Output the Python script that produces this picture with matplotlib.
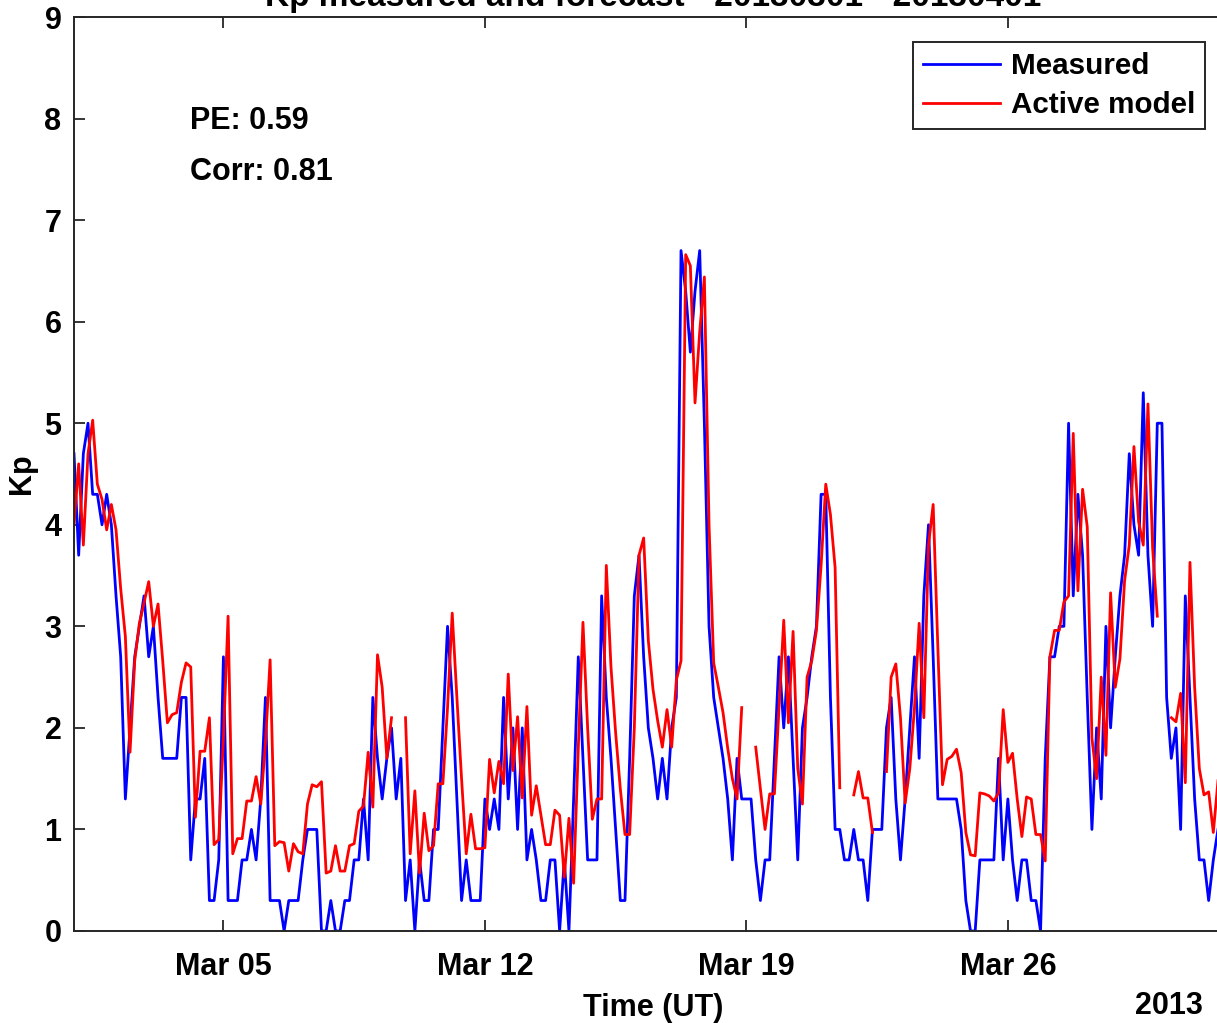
import matplotlib
matplotlib.use('Agg')
import matplotlib.pyplot as plt
import matplotlib.dates as mdates
import numpy as np
from datetime import datetime, timedelta

nan = np.nan

# 3-hourly Kp, one row per day (1-31 March 2013)
measured = [
    4.7, 3.7, 4.7, 5.0, 4.3, 4.3, 4.0, 4.3,
    4.0, 3.3, 2.7, 1.3, 2.0, 2.7, 3.0, 3.3,
    2.7, 3.0, 2.3, 1.7, 1.7, 1.7, 1.7, 2.3,
    2.3, 0.7, 1.3, 1.3, 1.7, 0.3, 0.3, 0.7,
    2.7, 0.3, 0.3, 0.3, 0.7, 0.7, 1.0, 0.7,
    1.3, 2.3, 0.3, 0.3, 0.3, 0.0, 0.3, 0.3,
    0.3, 0.7, 1.0, 1.0, 1.0, 0.0, 0.0, 0.3,
    0.0, 0.0, 0.3, 0.3, 0.7, 0.7, 1.3, 0.7,
    2.3, 1.7, 1.3, 1.7, 2.0, 1.3, 1.7, 0.3,
    0.7, 0.0, 0.7, 0.3, 0.3, 1.0, 1.0, 2.0,
    3.0, 2.3, 1.3, 0.3, 0.7, 0.3, 0.3, 0.3,
    1.3, 1.0, 1.3, 1.0, 2.3, 1.3, 2.0, 1.0,
    2.0, 0.7, 1.0, 0.7, 0.3, 0.3, 0.7, 0.7,
    0.0, 0.7, 0.0, 1.3, 2.7, 1.7, 0.7, 0.7,
    0.7, 3.3, 2.3, 1.7, 1.0, 0.3, 0.3, 1.7,
    3.3, 3.7, 2.7, 2.0, 1.7, 1.3, 1.7, 1.3,
    2.0, 2.3, 6.7, 6.3, 5.7, 6.3, 6.7, 5.0,
    3.0, 2.3, 2.0, 1.7, 1.3, 0.7, 1.7, 1.3,
    1.3, 1.3, 0.7, 0.3, 0.7, 0.7, 1.7, 2.7,
    2.0, 2.7, 1.7, 0.7, 2.0, 2.3, 2.7, 3.0,
    4.3, 4.3, 2.3, 1.0, 1.0, 0.7, 0.7, 1.0,
    0.7, 0.7, 0.3, 1.0, 1.0, 1.0, 2.0, 2.3,
    1.3, 0.7, 1.3, 2.0, 2.7, 1.7, 3.3, 4.0,
    2.7, 1.3, 1.3, 1.3, 1.3, 1.3, 1.0, 0.3,
    0.0, 0.0, 0.7, 0.7, 0.7, 0.7, 1.7, 0.7,
    1.3, 0.7, 0.3, 0.7, 0.7, 0.3, 0.3, 0.0,
    1.7, 2.7, 2.7, 3.0, 3.0, 5.0, 3.3, 4.3,
    3.7, 2.3, 1.0, 2.0, 1.3, 3.0, 2.0, 2.7,
    3.3, 3.7, 4.7, 4.0, 3.7, 5.3, 3.7, 3.0,
    5.0, 5.0, 2.3, 1.7, 2.0, 1.0, 3.3, 2.3,
    1.3, 0.7, 0.7, 0.3, 0.7, 1.0, 1.7, 1.3,
]

# model forecast, gaps where the model gave no output
active_model = [
    4.0, 4.6, 3.8, 4.7, 5.03, 4.4, 4.25, 3.95,
    4.2, 3.95, 3.37, 2.9, 1.76, 2.66, 3.03, 3.23,
    3.44, 3.0, 3.22, 2.66, 2.05, 2.13, 2.15, 2.45,
    2.64, 2.6, 1.12, 1.77, 1.77, 2.1, 0.85, 0.9,
    1.9, 3.1, 0.76, 0.91, 0.91, 1.28, 1.28, 1.52,
    1.25, 1.85, 2.67, 0.84, 0.88, 0.87, 0.59, 0.86,
    0.78, 0.76, 1.25, 1.44, 1.42, 1.47, 0.57, 0.59,
    0.84, 0.59, 0.59, 0.84, 0.86, 1.18, 1.23, 1.76,
    1.22, 2.72, 2.4, 1.7, 2.1, nan, nan, 2.1,
    0.76, 1.38, 0.57, 1.16, 0.79, 0.84, 1.45, 1.45,
    2.2, 3.13, 2.3, 1.5, 0.76, 1.15, 0.81, 0.81,
    0.82, 1.69, 1.36, 1.67, 1.45, 2.53, 1.58, 2.11,
    1.31, 2.21, 1.14, 1.43, 1.14, 0.85, 0.85, 1.19,
    1.14, 0.53, 1.11, 0.47, 1.8, 3.04, 2.0, 1.1,
    1.3, 1.3, 3.6, 2.6, 1.95, 1.4, 0.95, 0.95,
    2.0, 3.7, 3.87, 2.86, 2.38, 2.07, 1.81, 2.18,
    1.81, 2.47, 2.66, 6.66, 6.55, 5.2, 5.9, 6.44,
    4.0, 2.64, 2.4, 2.15, 1.8, 1.5, 1.3, 2.2,
    nan, nan, 1.81, 1.4, 1.0, 1.35, 1.35, 2.2,
    3.06, 2.05, 2.95, 1.6, 1.25, 2.5, 2.66, 2.96,
    3.6, 4.4, 4.1, 3.58, 1.41, nan, nan, 1.34,
    1.57, 1.31, 1.31, 0.97, nan, nan, 1.57, 2.5,
    2.63, 2.1, 1.26, 1.6, 2.2, 3.03, 2.1, 3.8,
    4.2, 2.8, 1.44, 1.69, 1.72, 1.79, 1.56, 0.97,
    0.75, 0.74, 1.36, 1.35, 1.33, 1.28, 1.36, 2.18,
    1.66, 1.75, 1.3, 0.93, 1.32, 1.3, 0.95, 0.95,
    0.69, 2.7, 2.96, 2.96, 3.24, 3.3, 4.9, 3.35,
    4.35, 3.98, 1.9, 1.5, 2.5, 1.73, 3.33, 2.4,
    2.68, 3.45, 3.8, 4.77, 4.03, 3.8, 5.19, 3.77,
    3.1, nan, nan, 2.1, 2.06, 2.34, 1.46, 3.63,
    2.4, 1.6, 1.34, 1.37, 0.97, 1.48, 1.8, 1.5,
]

tick_days = [5, 12, 19, 26]
pe = 0.59
corr = 0.81

start = datetime(2013, 3, 1)
end = datetime(2013, 4, 1)
times = [start + timedelta(hours=3 * i) for i in range(len(measured))]

plt.rcParams['font.family'] = ['Liberation Sans', 'DejaVu Sans']
plt.rcParams['font.weight'] = 'bold'
plt.rcParams['axes.labelweight'] = 'bold'
plt.rcParams['text.color'] = 'black'

W, H = 1217, 1023
fig = plt.figure(figsize=(W / 100, H / 100), dpi=100)
# axes run from 1 Mar to 1 Apr; the right end runs past the figure edge
ax = fig.add_axes([74 / W, 92 / H, (1232 - 74) / W, (931 - 17) / H])

ax.plot(times, measured, color='b', lw=2.0, label='Measured')
ax.plot(times, active_model, color='r', lw=2.0, label='Active model')

ax.set_xlim(start, end)
ax.set_ylim(0, 9)
ax.set_yticks(range(10))
ax.set_xticks([datetime(2013, 3, d) for d in tick_days])
ax.xaxis.set_major_formatter(mdates.DateFormatter('%b %d'))

for s in ax.spines.values():
    s.set_color('#262626')
    s.set_linewidth(1.4)
ax.tick_params(direction='in', length=8, width=1.3, top=True, right=True,
               labelsize=22, colors='#262626', labelcolor='black')
ax.tick_params(axis='x', pad=15)
ax.tick_params(axis='y', pad=9)

ax.set_xlabel('Time (UT)', fontsize=22)
ax.xaxis.set_label_coords(0.5, -0.068)
ax.set_ylabel('Kp', fontsize=22)
ax.yaxis.set_label_coords(-0.032, 0.5)

fig.text(1203 / W, 1 - 1006 / H, '2013', ha='right', va='center',
         fontsize=22)
ax.text(0.5, 1.012, 'Kp measured and forecast - 20130301 - 20130401',
        transform=ax.transAxes, ha='center', va='baseline', fontsize=24)

fig.text(190 / W, 1 - 121 / H, 'PE: %.2f' % pe, va='center', fontsize=22)
fig.text(190 / W, 1 - 172 / H, 'Corr: %.2f' % corr, va='center',
         fontsize=22)

leg = ax.legend(loc='upper right', bbox_to_anchor=(1205 / W, 1 - 42 / H),
                bbox_transform=fig.transFigure, fontsize=21.3,
                handlelength=2.6, handletextpad=0.36, labelspacing=0.38,
                borderpad=0.34, borderaxespad=0, fancybox=False,
                framealpha=1, edgecolor='#262626')
leg.get_frame().set_linewidth(1.4)

fig.savefig('out.png', dpi=100)
